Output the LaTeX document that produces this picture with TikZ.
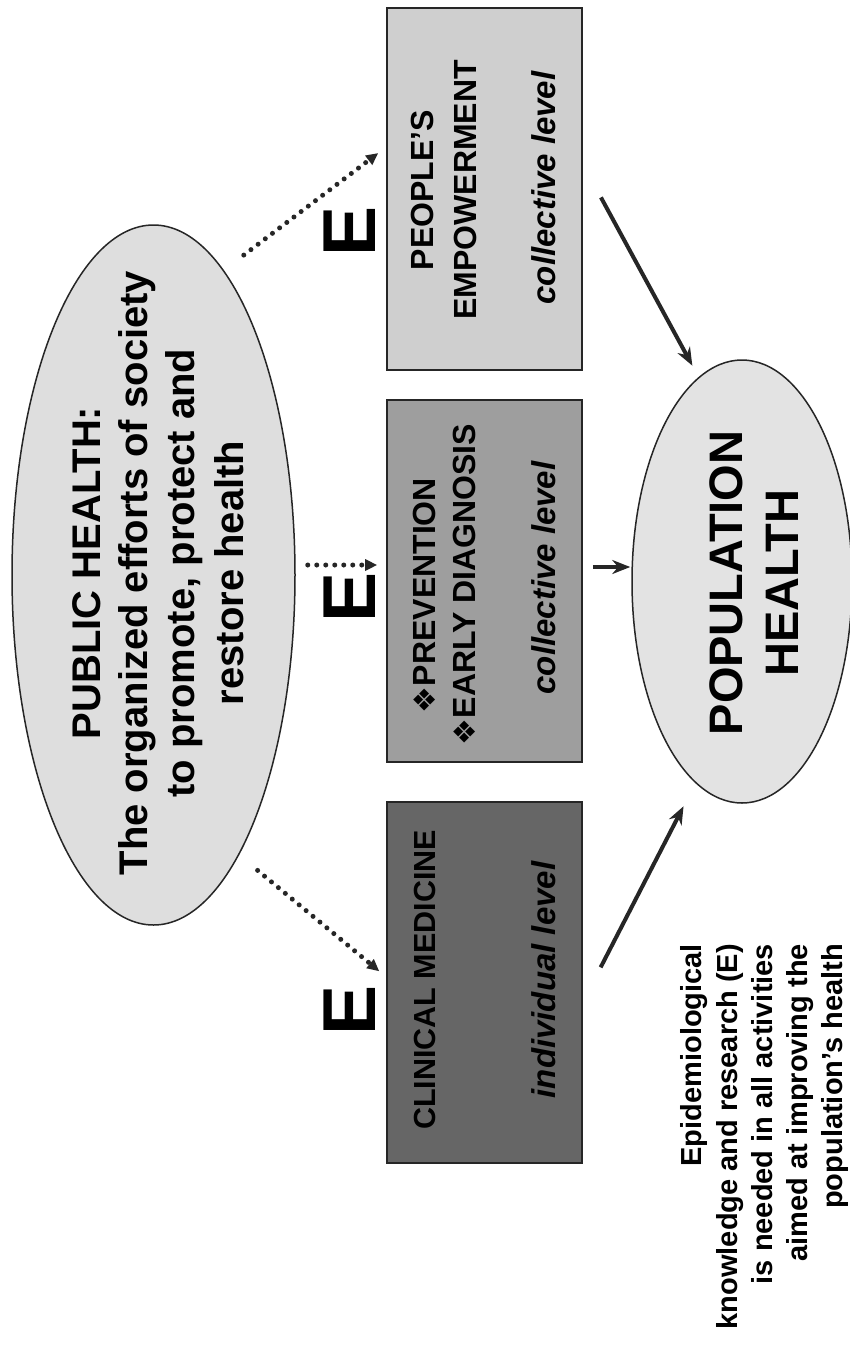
\documentclass[tikz,border=0pt]{standalone}
\usepackage{fontspec}
\setmainfont{Liberation Sans}
\newfontfamily\dejavu{DejaVu Sans}
\usetikzlibrary{shapes.geometric,arrows.meta}
\definecolor{phc}{gray}{0.87}
\definecolor{popc}{gray}{0.89}
\definecolor{peoc}{gray}{0.81}
\definecolor{prec}{gray}{0.62}
\definecolor{clic}{gray}{0.40}
\begin{document}
\begin{tikzpicture}[x=1pt,y=-1pt,
  txt/.style={rotate=90,inner sep=0pt,outer sep=0pt},
  boxtxt/.style={txt,font=\bfseries\fontsize{32}{38}\selectfont},
  boxit/.style={txt,font=\bfseries\itshape\fontsize{33}{38}\selectfont},
  phtxt/.style={txt,font=\bfseries\fontsize{40}{46}\selectfont},
  poptxt/.style={txt,font=\bfseries\fontsize{47}{56}\selectfont},
  notetxt/.style={txt,font=\bfseries\fontsize{29}{34}\selectfont},
  elab/.style={txt,font=\bfseries\fontsize{75}{80}\selectfont},
  boxnode/.style={rectangle,draw=black!85,line width=1.6pt,inner sep=0pt,minimum width=195pt},
  ellnode/.style={ellipse,draw=black!85,line width=1.5pt,inner sep=0pt},
  solidarr/.style={draw=black!85,line width=4pt,-{Stealth[length=18pt,width=14pt]}},
  dotarr/.style={draw=black!85,line width=5pt,line cap=round,dash pattern=on 0pt off 9pt,-{Triangle[length=12pt,width=11pt]}}]
\useasboundingbox (0,0) rectangle (850,1353);
\fill[white] (0,0) rectangle (850,1353);

% shapes
\node[ellnode,fill=phc,minimum width=283pt,minimum height=700pt] (ph) at (153.5,575) {};
\node[ellnode,fill=popc,minimum width=220pt,minimum height=443pt] (pop) at (742,581.5) {};
\node[boxnode,fill=peoc,minimum height=362pt] (peo) at (484.5,189) {};
\node[boxnode,fill=prec,minimum height=362pt] (pre) at (484.5,581) {};
\node[boxnode,fill=clic,minimum height=361pt] (cli) at (484.5,982.5) {};

% public health text
\node[phtxt,anchor=base] (ph1) at (100,573) {PUBLIC HEALTH:};
\node[phtxt,anchor=base] (ph2) at (147,573) {The organized efforts of society};
\node[phtxt,anchor=base] (ph3) at (194,573) {to promote, protect and};
\node[phtxt,anchor=base] (ph4) at (243,573) {restore health};

% population health text
\node[poptxt,anchor=base] (pop1) at (742,583) {POPULATION};
\node[poptxt,anchor=base] (pop2) at (798,583) {HEALTH};

% box texts
\node[boxtxt,anchor=base] (peo1) at (433,190) {PEOPLE’S};
\node[boxtxt,anchor=base] (peo2) at (476,190) {EMPOWERMENT};
\node[boxit,anchor=base] (peo3) at (555,188) {collective level};

\node[boxtxt,anchor=base west] (pre1) at (435,713) {{\dejavu\fontsize{30}{34}\selectfont ❖}PREVENTION};
\node[boxtxt,anchor=base west] (pre2) at (475,745) {{\dejavu\fontsize{30}{34}\selectfont ❖}EARLY DIAGNOSIS};
\node[boxit,anchor=base] (pre3) at (555,578) {collective level};

\node[boxtxt,anchor=base,font=\bfseries\fontsize{30.5}{36}\selectfont] (cli1) at (435,980) {CLINICAL MEDICINE};
\node[boxit,anchor=base] (cli2) at (555,980) {individual level};

% E labels
\node[elab,anchor=base] (e1) at (375,231) {E};
\node[elab,anchor=base] (e2) at (375,597) {E};
\node[elab,anchor=base] (e3) at (375,1010) {E};

% note
\node[notetxt,anchor=base east] (n1) at (701,944) {Epidemiological};
\node[notetxt,anchor=base east] (n2) at (737,944) {knowledge and research (E)};
\node[notetxt,anchor=base east] (n3) at (772,944) {is needed in all activities};
\node[notetxt,anchor=base east] (n4) at (807,944) {aimed at improving the};
\node[notetxt,anchor=base east] (n5) at (842,944) {population’s health};

% dotted arrows
\draw[dotarr,shorten <=25pt,shorten >=10pt] (ph.77) -- ([yshift=42pt]peo.west);
\draw[dotarr,shorten <=12pt,shorten >=9pt] ([yshift=16pt]pre.west -| ph.east) -- ([yshift=16pt]pre.west);
\draw[dotarr,shorten <=24pt,shorten >=9pt] (ph.-73) -- ([yshift=5.5pt]cli.west);

% solid arrows
\draw[solidarr,shorten <=38pt,shorten >=13pt] ([yshift=25pt]peo.east) -- (pop.102);
\draw[solidarr,shorten <=10pt,shorten >=1pt] ([yshift=14pt]pre.east) -- ([yshift=14pt]pre.east -| pop.west);
\draw[solidarr,shorten <=39pt,shorten >=26pt] ([yshift=-19.5pt]cli.east) -- (pop.-103);
\end{tikzpicture}
\end{document}
